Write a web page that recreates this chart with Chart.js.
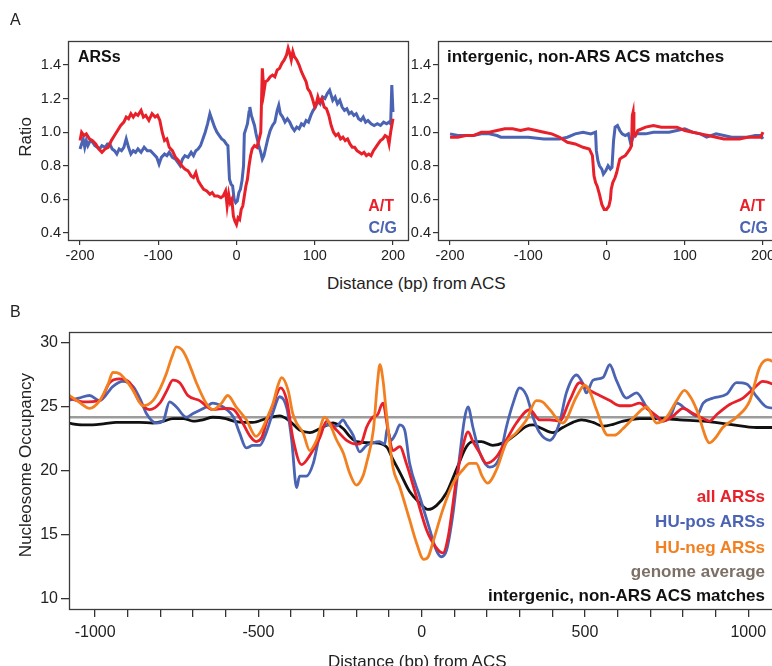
<!DOCTYPE html>
<html><head><meta charset="utf-8">
<script src="https://cdn.jsdelivr.net/npm/chart.js@4.4.1/dist/chart.umd.min.js"></script>
<style>
html,body{margin:0;padding:0;background:#fff;overflow:hidden;width:772px;height:666px;}
#wrap{position:relative;width:772px;height:666px;overflow:hidden;font-family:"Liberation Sans",Arial,sans-serif;color:#222;}
canvas{position:absolute;}
.t{position:absolute;white-space:nowrap;line-height:1;}
.l{transform:translate(0,-50%);}
.c{transform:translate(-50%,-50%);}
.r{transform:translate(-50%,-50%) rotate(-90deg);}
.rt{transform:translate(-100%,-50%);}
.b{font-weight:bold;}
</style></head><body><div id="wrap">
<canvas id="a1" width="420" height="270" style="left:0;top:0"></canvas>
<canvas id="a2" width="420" height="270" style="left:370px;top:0"></canvas>
<canvas id="bb" width="780" height="366" style="left:0;top:300px"></canvas>

<div class="t l" style="left:10px;top:20px;font-size:16px">A</div>
<div class="t r" style="left:25px;top:137px;font-size:17px">Ratio</div>
<div class="t l b" style="left:78px;top:57px;font-size:16px;color:#111">ARSs</div>
<div class="t rt b" style="left:394px;top:206px;font-size:16px;color:#e8202a">A/T</div>
<div class="t rt b" style="left:397px;top:228px;font-size:16px;color:#4b63b3">C/G</div>
<div class="t l b" style="left:447px;top:56px;font-size:17px;color:#111">intergenic, non-ARS ACS matches</div>
<div class="t rt b" style="left:765px;top:206px;font-size:16px;color:#e8202a">A/T</div>
<div class="t rt b" style="left:768px;top:228px;font-size:16px;color:#4b63b3">C/G</div>
<div class="t l" style="left:327px;top:283px;font-size:17px">Distance (bp) from ACS</div>

<div class="t l" style="left:10px;top:312px;font-size:16px">B</div>
<div class="t r" style="left:25px;top:465px;font-size:17px">Nucleosome Occupancy</div>
<div class="t rt b" style="left:765px;top:496px;font-size:17px;color:#e8202a">all ARSs</div>
<div class="t rt b" style="left:765px;top:521px;font-size:17px;color:#4b63b3">HU-pos ARSs</div>
<div class="t rt b" style="left:765px;top:547px;font-size:17px;color:#f28020">HU-neg ARSs</div>
<div class="t rt b" style="left:765px;top:571px;font-size:17px;color:#7b6f66">genome average</div>
<div class="t rt b" style="left:765px;top:595px;font-size:17px;color:#111">intergenic, non-ARS ACS matches</div>
<div class="t l" style="left:328px;top:661px;font-size:17px">Distance (bp) from ACS</div>
</div>
<script>
// ---------- Panel A (left): ARSs ----------
const arsAT_x = [-200,-198,-195,-192,-188,-184,-180,-176,-172,-168,-164,-160,-156,-152,-148,-144,-141,-138,-135,-132,-129,-126,-122,-119,-116,-112,-108,-104,-101,-98,-95,-92,-89,-86,-82,-78,-74,-70,-66,-62,-58,-55,-52,-49,-45,-42,-38,-34,-31,-28,-24,-20,-17,-14,-12,-10,-8,-6,-4,-2,0,2,4,6,8,10,12,14,16,18,20,23,26,29,31,33,35,37,40,43,46,49,52,55,58,61,64,66,68,70,72,74,77,80,83,86,89,91,94,97,100,102,104,106,109,112,115,118,121,124,127,130,133,136,139,142,145,148,151,154,157,160,163,166,169,172,175,178,181,184,187,190,193,195,197,200];
const arsAT_y = [0.95,1.00,0.98,0.99,0.96,0.95,0.93,0.90,0.88,0.90,0.91,0.95,0.98,1.01,1.04,1.06,1.09,1.08,1.11,1.09,1.11,1.10,1.13,1.09,1.10,1.07,1.11,1.09,1.10,1.07,1.00,0.95,0.96,0.91,0.89,0.85,0.83,0.80,0.78,0.77,0.74,0.73,0.76,0.71,0.68,0.66,0.65,0.63,0.64,0.62,0.62,0.61,0.62,0.65,0.56,0.63,0.58,0.60,0.50,0.47,0.45,0.49,0.48,0.54,0.56,0.62,0.68,0.72,0.80,0.86,0.90,0.92,0.91,0.96,1.00,1.38,1.24,1.30,1.31,1.33,1.34,1.33,1.37,1.38,1.41,1.43,1.46,1.50,1.47,1.43,1.48,1.45,1.43,1.40,1.36,1.33,1.30,1.26,1.24,1.20,1.15,1.17,1.21,1.18,1.20,1.15,1.14,1.10,1.04,1.00,0.98,0.99,0.96,0.97,0.95,0.96,0.93,0.91,0.91,0.89,0.88,0.87,0.88,0.86,0.87,0.86,0.89,0.91,0.93,0.95,0.96,0.98,0.97,0.93,1.00,1.08];
const arsCG_x = [-200,-198,-196,-194,-192,-190,-187,-184,-181,-178,-175,-172,-168,-165,-162,-159,-156,-153,-150,-147,-144,-141,-138,-135,-132,-129,-126,-122,-118,-114,-110,-106,-102,-99,-96,-92,-89,-86,-82,-78,-75,-72,-69,-66,-62,-58,-55,-52,-49,-46,-43,-40,-37,-34,-31,-28,-25,-22,-19,-16,-13,-11,-9,-7,-5,-3,-1,1,3,5,7,9,10,12,14,16,17,19,21,23,25,27,29,31,33,35,37,40,43,46,49,52,54,56,59,62,65,68,71,74,77,80,83,86,89,92,95,98,101,104,107,110,113,116,119,121,123,126,129,132,135,138,141,144,147,150,153,156,159,162,165,168,172,176,180,184,188,192,195,197,198.5,200];
const arsCG_y = [0.90,0.93,0.96,0.91,0.95,0.92,0.95,0.94,0.92,0.91,0.90,0.92,0.91,0.93,0.93,0.90,0.89,0.87,0.90,0.89,0.91,0.96,0.91,0.87,0.89,0.88,0.90,0.88,0.91,0.89,0.89,0.87,0.85,0.81,0.85,0.87,0.86,0.88,0.85,0.84,0.82,0.80,0.84,0.86,0.85,0.88,0.86,0.89,0.90,0.92,0.96,1.00,1.05,1.11,1.07,1.03,1.00,0.98,0.96,0.95,0.93,0.92,0.72,0.69,0.68,0.60,0.58,0.59,0.64,0.66,0.71,0.80,0.99,1.02,1.05,1.12,1.15,1.10,1.07,1.04,0.99,0.95,0.91,0.88,0.84,0.86,0.90,0.96,1.01,1.04,1.06,1.13,1.16,1.11,1.09,1.06,1.08,1.06,1.03,1.01,1.03,1.02,1.05,1.04,1.07,1.06,1.10,1.13,1.15,1.19,1.17,1.21,1.20,1.23,1.25,1.22,1.19,1.21,1.17,1.19,1.15,1.13,1.14,1.11,1.12,1.10,1.11,1.08,1.07,1.09,1.06,1.07,1.05,1.04,1.05,1.04,1.06,1.05,1.06,1.05,1.28,1.12];

// ---------- Panel A (right): intergenic, non-ARS ACS matches ----------
const igAT_x = [-200,-190,-180,-170,-160,-150,-140,-130,-120,-110,-100,-90,-80,-70,-60,-50,-40,-30,-22,-18,-16,-14,-12,-9,-6,-3,0,3,5,6,8,11,13,15,17,20,24,27,30,32,33,34,35,37,40,50,60,70,80,90,100,110,120,130,140,150,160,170,180,190,197,200];
const igAT_y = [0.97,0.97,0.98,0.98,1.00,1.00,1.01,1.02,1.02,1.01,1.02,1.01,1.00,0.99,0.97,0.94,0.93,0.91,0.90,0.86,0.74,0.70,0.68,0.63,0.57,0.54,0.54,0.56,0.60,0.66,0.70,0.73,0.76,0.80,0.84,0.85,0.86,0.88,0.90,0.92,1.10,1.12,0.99,0.98,1.01,1.03,1.04,1.03,1.03,1.03,1.01,1.00,0.99,0.98,0.97,0.96,0.96,0.96,0.97,0.97,0.97,1.00];
const igCG_x = [-200,-190,-180,-170,-160,-150,-140,-135,-120,-100,-80,-60,-50,-40,-30,-20,-14,-13,-11,-9,-6,-4,-1,2,5,7,9,11,14,17,20,24,28,31,34,38,50,60,70,80,90,100,110,120,128,140,150,160,170,180,190,197,200];
const igCG_y = [0.99,0.98,0.98,0.98,0.99,0.99,0.98,0.97,0.97,0.97,0.96,0.96,0.97,0.99,1.00,0.99,1.00,0.89,0.83,0.80,0.78,0.75,0.77,0.80,0.78,0.79,0.95,1.03,1.04,1.01,0.99,0.98,0.99,0.93,0.97,0.99,0.99,1.00,1.00,1.00,1.01,1.02,1.00,0.99,0.97,0.99,0.98,0.97,0.97,0.97,0.98,0.98,0.96];

// ---------- Panel B: nucleosome occupancy ----------
const allARS_x = [-1084,-1037,-986,-956,-925,-894,-864,-833,-802,-780,-762,-741,-716,-680,-640,-597,-576,-548,-525,-507,-490,-476,-455,-432,-413,-394,-368,-343,-312,-291,-261,-230,-199,-185,-169,-150,-135,-119,-103,-88,-67,-47,-16,15,45,65,81,106,126,142,157,178,198,229,259,290,331,361,392,422,453,484,515,545,576,606,637,668,689,719,739,770,800,831,862,882,903,943,984,1015,1045,1085];
const allARS_y = [25.8,25.4,25.5,26.9,27.2,26.9,25.4,24.8,25.3,26.3,27.1,26.9,25.9,25.5,24.8,24.9,24.8,23.75,22.7,22.3,22.6,23.75,25.2,26.5,25.5,22.5,20.5,21.2,22.6,23.9,23.2,22.4,22.1,22.2,23.4,24.2,24.4,25.3,23.2,21.6,21.9,20.6,18.0,15.4,14.0,13.6,14.85,19.3,21.9,23.05,22.3,21.4,20.6,21.1,22.4,23.75,24.8,24.0,24.0,23.9,25.5,26.9,26.3,25.9,25.5,25.1,25.1,25.3,24.9,24.3,23.9,24.3,24.9,24.5,24.1,23.9,24.4,25.2,25.7,26.4,27.0,26.7];
const huPos_x = [-1084,-1050,-1017,-986,-946,-915,-884,-860,-843,-813,-792,-772,-751,-721,-700,-660,-640,-597,-576,-558,-537,-517,-496,-476,-455,-435,-413,-398,-383,-374,-353,-332,-312,-291,-261,-241,-230,-210,-190,-169,-150,-129,-113,-106,-94,-80,-67,-52,-37,-6,25,45,60,76,96,116,132,142,157,178,208,239,259,280,300,321,341,361,392,422,443,474,494,504,525,555,576,596,627,658,689,719,739,760,781,811,842,862,893,934,964,995,1026,1056,1085];
const huPos_y = [25.5,25.7,25.9,25.5,26.6,27.0,26.6,25.5,24.5,23.75,23.9,25.4,25.0,24.2,24.5,25.0,25.3,24.8,24.2,23.0,21.8,22.0,22.0,23.0,24.6,25.8,24.9,22.4,18.7,19.6,19.6,20.6,22.8,23.6,23.5,24.0,23.6,22.8,21.5,22.0,22.2,22.3,22.1,23.3,22.4,22.9,23.6,23.2,20.6,18.0,15.4,13.8,13.3,13.8,16.7,21.1,24.2,25.0,23.4,21.4,20.3,21.1,23.4,25.3,26.5,25.9,24.2,23.0,22.4,23.75,26.1,27.5,26.8,26.1,27.1,27.3,28.3,27.1,25.7,26.1,25.0,24.2,23.9,24.2,25.3,24.8,24.3,25.3,25.7,26.0,26.9,26.8,25.8,25.0,24.9];
const huNeg_x = [-1084,-1050,-1017,-986,-960,-946,-925,-900,-884,-853,-823,-800,-782,-765,-751,-735,-721,-705,-690,-660,-639,-613,-594,-568,-537,-507,-490,-476,-455,-440,-429,-409,-395,-383,-363,-343,-322,-297,-280,-262,-240,-220,-200,-180,-169,-148,-135,-128,-118,-108,-88,-67,-37,-16,6,20,34,65,96,126,147,167,185,202,229,259,290,321,351,370,392,432,474,499,515,535,570,590,616,658,689,719,750,781,805,825,842,882,900,922,964,1005,1035,1060,1085];
const huNeg_y = [26.0,25.4,24.9,25.5,26.8,27.7,27.6,26.9,26.3,25.1,25.5,26.5,27.6,28.9,29.7,29.5,28.9,27.9,26.9,25.3,24.8,25.3,25.9,25.0,24.0,22.7,23.2,24.0,25.3,26.7,27.3,26.3,24.5,23.75,22.97,21.6,22.4,24.2,23.6,22.5,21.4,19.8,18.9,19.6,20.6,23.2,27.0,28.3,27.0,24.5,20.3,18.75,16.2,14.4,13.1,13.3,14.4,17.0,19.05,20.1,20.6,20.6,19.6,19.05,20.1,22.2,23.0,24.0,25.5,25.4,24.8,23.75,25.8,26.7,26.2,24.8,22.8,22.8,23.3,24.4,25.0,23.75,24.2,25.5,26.3,25.7,24.8,22.2,22.6,23.4,24.2,25.5,28.1,28.7,28.4];
const inter_x = [-1084,-1040,-1007,-970,-936,-864,-823,-790,-762,-730,-700,-670,-640,-600,-576,-540,-517,-476,-435,-404,-374,-343,-312,-271,-240,-220,-199,-148,-108,-88,-67,-37,-6,19,45,76,106,137,157,183,218,249,280,321,341,361,402,432,463,489,525,555,586,617,668,739,790,862,943,1026,1085];
const inter_y = [23.75,23.6,23.6,23.7,23.8,23.8,23.75,23.9,24.1,24.1,23.9,24.0,24.2,24.1,23.9,23.8,23.8,24.1,24.3,23.9,23.2,23.0,23.3,23.75,23.3,22.7,22.3,22.2,21.9,20.9,19.9,18.4,17.5,17.0,17.3,18.3,20.1,21.9,22.3,22.3,22.0,22.2,22.7,23.5,23.6,23.4,23.0,23.4,23.8,24.0,23.8,23.5,23.65,23.9,24.1,24.1,24.0,23.9,23.65,23.4,23.4];
const genome_x = [-1080,1085];
const genome_y = [24.2,24.2];

const aTicksY = 0.2, aTicksX = 100, bTicksY = 5, bTicksX = 100, bLabelEvery = 500;

const RED='#e8202a', BLUE='#4b63b3', ORANGE='#f28020', BLACK='#111111', GRAY='#9c9c9c';
const FONT='"Liberation Sans", Arial, sans-serif';
const pts=(xs,ys)=>xs.map((x,i)=>({x:x,y:ys[i]}));

const boxPlugin={id:'box',afterDraw(c){const a=c.chartArea,ctx=c.ctx;ctx.save();ctx.strokeStyle='#3c3c3c';ctx.lineWidth=1.3;ctx.strokeRect(Math.round(a.left)+0.5,Math.round(a.top)+0.5,Math.round(a.right-a.left),Math.round(a.bottom-a.top));ctx.restore();}};

function ds(label,xs,ys,color,w){return {label:label,data:pts(xs,ys),borderColor:color,backgroundColor:color,borderWidth:w,pointRadius:0,fill:false};}

function aChart(id,at_x,at_y,cg_x,cg_y){
  return new Chart(document.getElementById(id),{
    type:'line',
    data:{datasets:[ds('A/T',at_x,at_y,RED,3),ds('C/G',cg_x,cg_y,BLUE,3)]},
    options:{
      responsive:false,animation:false,devicePixelRatio:1,
      layout:{padding:{top:41,right:12,left:0,bottom:0}},
      plugins:{legend:{display:false},tooltip:{enabled:false}},
      elements:{line:{tension:0}},
      scales:{
        x:{type:'linear',min:-215.4,max:219.2,afterFit:s=>{s.height=30;},
          grid:{display:true,drawOnChartArea:false,drawTicks:true,tickLength:5,color:'#333',lineWidth:1.2},
          border:{display:false},
          ticks:{stepSize:aTicksX,includeBounds:false,autoSkip:false,maxRotation:0,padding:2,color:'#222',font:{family:FONT,size:14.5},callback:v=>String(v)}},
        y:{type:'linear',min:0.358,max:1.543,afterFit:s=>{s.width=68;},
          grid:{display:true,drawOnChartArea:false,drawTicks:true,tickLength:5,color:'#333',lineWidth:1.2},
          border:{display:false},
          ticks:{stepSize:aTicksY,includeBounds:false,autoSkip:false,padding:2,color:'#222',font:{family:FONT,size:14.5},callback:v=>v.toFixed(1)}}
      }
    },
    plugins:[boxPlugin]
  });
}
aChart('a1',arsAT_x,arsAT_y,arsCG_x,arsCG_y);
aChart('a2',igAT_x,igAT_y,igCG_x,igCG_y);

new Chart(document.getElementById('bb'),{
  type:'line',
  data:{datasets:[
    ds('HU-neg ARSs',huNeg_x,huNeg_y,ORANGE,2.8),
    ds('all ARSs',allARS_x,allARS_y,RED,2.8),
    ds('HU-pos ARSs',huPos_x,huPos_y,BLUE,2.8),
    ds('intergenic, non-ARS ACS matches',inter_x,inter_y,BLACK,2.8),
    ds('genome average',genome_x,genome_y,GRAY,2.4)
  ]},
  options:{
    responsive:false,animation:false,devicePixelRatio:1,
    layout:{padding:{top:32,right:4,left:0,bottom:0}},
    plugins:{legend:{display:false},tooltip:{enabled:false}},
    elements:{line:{tension:0.4,cubicInterpolationMode:'monotone'}},
    scales:{
      x:{type:'linear',min:-1080,max:1085,afterFit:s=>{s.height=57;},
        grid:{display:true,drawOnChartArea:false,drawTicks:true,tickLength:8,color:'#333',lineWidth:1.3},
        border:{display:false},
        ticks:{stepSize:bTicksX,includeBounds:false,autoSkip:false,maxRotation:0,padding:6,color:'#222',font:{family:FONT,size:16},callback:v=>(v%bLabelEvery===0?String(v):'')}},
      y:{type:'linear',min:9.22,max:30.86,afterFit:s=>{s.width=69;},
        grid:{display:true,drawOnChartArea:false,drawTicks:true,tickLength:8,color:'#333',lineWidth:1.3},
        border:{display:false},
        ticks:{stepSize:bTicksY,includeBounds:false,autoSkip:false,padding:3,color:'#222',font:{family:FONT,size:16},callback:v=>String(v)}}
    }
  },
  plugins:[boxPlugin]
});
</script>
</body></html>
